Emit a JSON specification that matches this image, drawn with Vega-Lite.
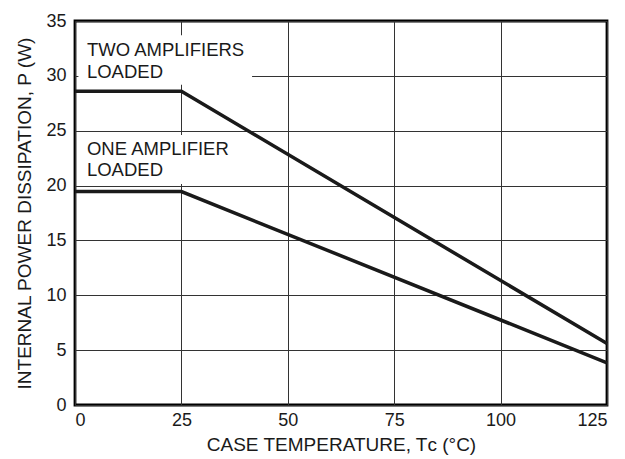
{
  "$schema": "https://vega.github.io/schema/vega-lite/v6.json",
  "autosize": "none",
  "width": 532,
  "height": 384,
  "padding": {"left": 75, "top": 21, "right": 18, "bottom": 54},
  "background": "white",
  "config": {
    "font": "Liberation Sans",
    "view": {"stroke": "black", "strokeWidth": 2.8},
    "axis": {
      "domain": false,
      "ticks": false,
      "grid": true,
      "gridColor": "#333333",
      "gridWidth": 1,
      "gridOpacity": 1,
      "labelFont": "Liberation Sans",
      "labelFontSize": 18,
      "labelColor": "#1a1a1a",
      "titleFont": "Liberation Sans",
      "titleFontSize": 19,
      "titleFontWeight": "normal",
      "titleColor": "#1a1a1a"
    }
  },
  "datasets": {
    "curves": [
      {"series": "two", "temp": 0, "power": 28.6},
      {"series": "two", "temp": 25, "power": 28.6},
      {"series": "two", "temp": 125, "power": 5.6},
      {"series": "one", "temp": 0, "power": 19.45},
      {"series": "one", "temp": 25, "power": 19.45},
      {"series": "one", "temp": 125, "power": 3.85}
    ],
    "notes": [
      {"label": "TWO AMPLIFIERS\nLOADED", "temp": 2.8, "power": 31.8, "x1": 0.8, "x2": 41.6, "y1": 29.2, "y2": 33.7},
      {"label": "ONE AMPLIFIER\nLOADED", "temp": 2.8, "power": 22.8, "x1": 0.8, "x2": 38, "y1": 20.15, "y2": 24.6}
    ]
  },
  "layer": [
    {
      "data": {"name": "notes"},
      "mark": {"type": "rect", "fill": "white", "stroke": null},
      "encoding": {
        "x": {"field": "x1", "type": "quantitative", "scale": {"domain": [0, 125], "nice": false}, "axis": {"values": [0, 25, 50, 75, 100, 125], "labelPadding": 6, "title": "CASE TEMPERATURE, Tᴄ (°C)", "titlePadding": 6}},
        "x2": {"field": "x2"},
        "y": {"field": "y1", "type": "quantitative", "scale": {"domain": [0, 35], "nice": false}, "axis": {"values": [0, 5, 10, 15, 20, 25, 30, 35], "labelPadding": 9, "title": "INTERNAL POWER DISSIPATION, P (W)", "titlePadding": 11}},
        "y2": {"field": "y2"}
      }
    },
    {
      "data": {"name": "curves"},
      "mark": {"type": "line", "color": "#1a1a1a", "strokeWidth": 3.5, "strokeJoin": "miter"},
      "encoding": {
        "x": {"field": "temp", "type": "quantitative"},
        "y": {"field": "power", "type": "quantitative"},
        "detail": {"field": "series"}
      }
    },
    {
      "data": {"name": "notes"},
      "mark": {"type": "text", "align": "left", "baseline": "alphabetic", "fontSize": 18.5, "lineBreak": "\n", "lineHeight": 21.5, "color": "#1a1a1a", "font": "Liberation Sans"},
      "encoding": {
        "x": {"field": "temp", "type": "quantitative"},
        "y": {"field": "power", "type": "quantitative"},
        "text": {"field": "label"}
      }
    }
  ]
}
